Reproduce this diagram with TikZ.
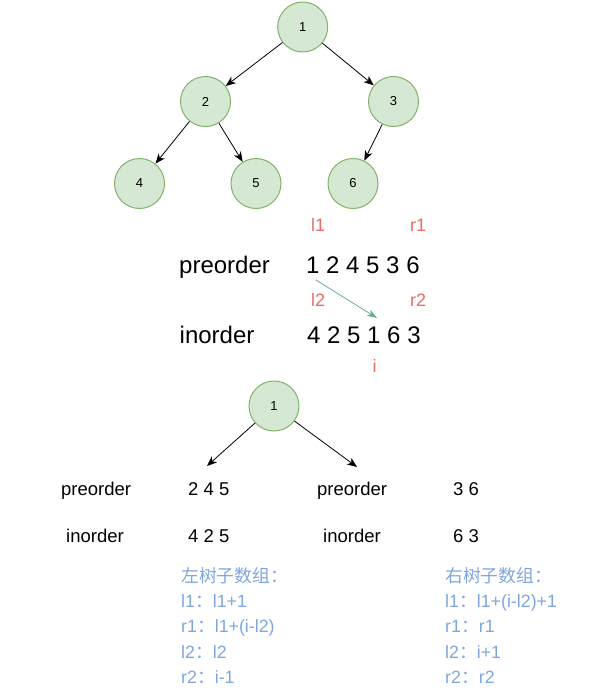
\documentclass[tikz,border=0pt]{standalone}
\usepackage{fontspec}
\setmainfont{Liberation Sans}
\newfontfamily\cjk{Noto Sans CJK SC}
\usetikzlibrary{positioning,arrows.meta}

\definecolor{treefill}{HTML}{D5E8D4}
\definecolor{treeline}{HTML}{82B366}
\definecolor{idxred}{HTML}{EA6B66}
\definecolor{stepteal}{HTML}{67AB9F}
\definecolor{noteblue}{HTML}{7EA6E0}

\begin{document}
\begin{tikzpicture}[x=1pt, y=-1pt,
		treenode/.style={circle, draw=treeline, fill=treefill, line width=1pt, minimum size=50pt, inner sep=0pt, font=\fontsize{13}{15}\selectfont},
		edge/.style={-{Stealth[length=10pt, width=8pt, inset=3pt]}, line width=0.8pt},
		bigtxt/.style={anchor=base west, inner sep=0pt, font=\fontsize{24}{28}\selectfont},
		idx/.style={anchor=base west, inner sep=0pt, text=idxred, font=\fontsize{18}{20}\selectfont},
		smalltxt/.style={anchor=base west, inner sep=0pt, font=\fontsize{18.5}{21}\selectfont},
		note/.style={anchor=base west, inner sep=0pt, text=noteblue, font=\fontsize{17.8}{20}\selectfont}]
			\useasboundingbox (0,0) rectangle (616,694);
			%\draw[help lines] (0,0) grid (616,694);

			% the whole tree
			\node[treenode] (n1) at (302.7,27) {1};
			\node[treenode] (n2) at (205.5,101.5) {2};
			\node[treenode] (n3) at (393.5,101.5) {3};
			\node[treenode] (n4) at (139.5,183.5) {4};
			\node[treenode] (n5) at (256,183.5) {5};
			\node[treenode] (n6) at (353,183.5) {6};
			\draw[edge] (n1) -- (n2);
			\draw[edge] (n1) -- (n3);
			\draw[edge] (n2) -- (n4);
			\draw[edge] (n2) -- (n5);
			\draw[edge] (n3) -- (n6);

			% the two orders
			\node[idx] (l1) at (311,231) {l1};
			\node[idx] (r1) at (410,231) {r1};
			\node[bigtxt] (pre) at (179,273) {preorder};
			\node[bigtxt] (preseq) at (306,273) {1 2 4 5 3 6};
			\node[idx] (l2) at (311,306) {l2};
			\node[idx] (r2) at (410,306) {r2};
			\node[bigtxt] (in) at (179.5,343) {inorder};
			\node[bigtxt] (inseq) at (307,343) {4 2 5 1 6 3};
			\node[idx, anchor=base] (i) at (374.5,372) {i};
			\coordinate (pre1) at (316,280);
			\coordinate (in1) at (377,318);
			\draw[-{Stealth[length=10pt, width=7pt, inset=3pt]}, stepteal, line width=0.8pt] (pre1) -- (in1);

			% one step of the split
			\node[treenode] (root) at (274,406) {1};
			\coordinate (lsub) at (207,466);
			\coordinate (rsub) at (357,467);
			\draw[edge] (root) -- (lsub);
			\draw[edge] (root) -- (rsub);

			\node[smalltxt] (lpre) at (61,495) {preorder};
			\node[smalltxt] (lpreseq) at (188,495) {2 4 5};
			\node[smalltxt] (lin) at (66,542) {inorder};
			\node[smalltxt] (linseq) at (188,542) {4 2 5};
			\node[smalltxt] (rpre) at (317,495) {preorder};
			\node[smalltxt] (rpreseq) at (453,495) {3 6};
			\node[smalltxt] (rin) at (323,542) {inorder};
			\node[smalltxt] (rinseq) at (453,542) {6 3};

			% index rules
			\node[note] (lhead) at (181,582) {\cjk 左树子数组：};
			\node[note] (ll1) at (181,607) {l1{\cjk ：}l1+1};
			\node[note] (lr1) at (181,632) {r1{\cjk ：}l1+(i-l2)};
			\node[note] (ll2) at (181,658) {l2{\cjk ：}l2};
			\node[note] (lr2) at (181,683) {r2{\cjk ：}i-1};
			\node[note] (rhead) at (445,582) {\cjk 右树子数组：};
			\node[note] (rl1) at (445,607) {l1{\cjk ：}l1+(i-l2)+1};
			\node[note] (rr1) at (445,632) {r1{\cjk ：}r1};
			\node[note] (rl2) at (445,658) {l2{\cjk ：}i+1};
			\node[note] (rr2) at (445,683) {r2{\cjk ：}r2};
\end{tikzpicture}
\end{document}
